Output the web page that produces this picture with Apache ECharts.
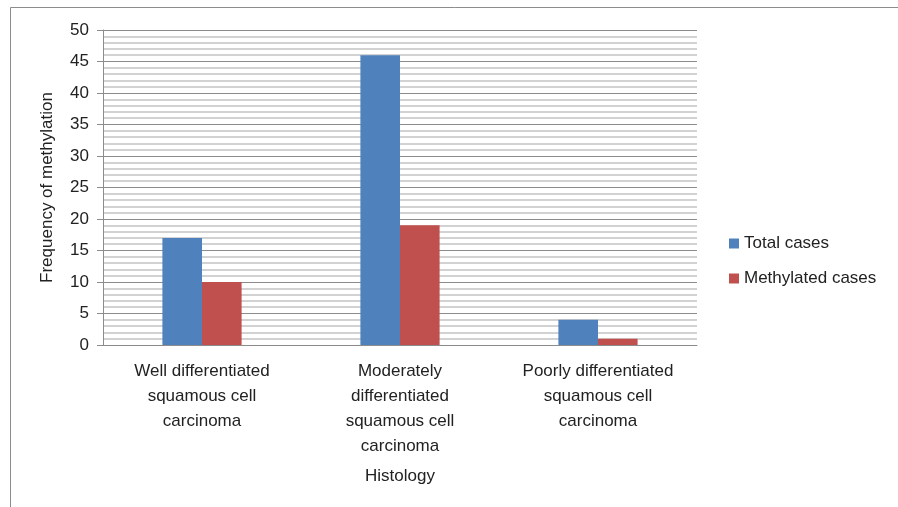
<!DOCTYPE html>
<html><head><meta charset="utf-8">
<script src="https://cdn.jsdelivr.net/npm/echarts@6/dist/echarts.min.js"></script>
<style>html,body{margin:0;padding:0;background:#fff}#c{width:898px;height:507px}</style>
</head><body><div id="c"></div>
<script>
var categories = ['Well differentiated\nsquamous cell\ncarcinoma', 'Moderately\ndifferentiated\nsquamous cell\ncarcinoma', 'Poorly differentiated\nsquamous cell\ncarcinoma'];
var totalCases = [17, 46, 4];
var methylatedCases = [10, 19, 1];
var seriesNames = ['Total cases', 'Methylated cases'];
var font = 'Liberation Sans';
var chart = echarts.init(document.getElementById('c'));
chart.setOption({
  animation: false,
  textStyle: {fontFamily: font},
  graphic: [{type: 'rect', shape: {x: 10.5, y: 7.5, width: 2000, height: 2000}, style: {fill: 'none', stroke: '#8c8c8c', lineWidth: 1}}],
  grid: {left: 103, right: 201, top: 30, bottom: 162},
  legend: {orient: 'vertical', left: 724, top: 230, itemWidth: 10, itemHeight: 10, itemGap: 18,
    icon: 'rect', textStyle: {fontFamily: font, fontSize: 17, color: '#222'}, data: seriesNames},
  xAxis: {type: 'category', data: categories,
    name: 'Histology', nameLocation: 'middle', nameGap: 123,
    nameTextStyle: {fontFamily: font, fontSize: 17, color: '#222'},
    axisLine: {lineStyle: {color: '#8c8c8c'}}, axisTick: {show: false},
    axisLabel: {fontFamily: font, fontSize: 17, color: '#222', lineHeight: 25, margin: 14}},
  yAxis: {type: 'value', min: 0, max: 50, interval: 5,
    name: 'Frequency of methylation', nameLocation: 'middle', nameGap: 47,
    nameTextStyle: {fontFamily: font, fontSize: 17, color: '#222'},
    axisLine: {show: true, lineStyle: {color: '#8c8c8c'}},
    axisTick: {show: true, length: 6, lineStyle: {color: '#8c8c8c'}},
    axisLabel: {fontFamily: font, fontSize: 17, color: '#222', margin: 14},
    splitLine: {lineStyle: {color: '#8c8c8c', width: 1}},
    minorTick: {show: false, splitNumber: 5},
    minorSplitLine: {show: true, lineStyle: {color: '#c4c4c4', width: 1.5}}},
  series: [
    {name: seriesNames[0], type: 'bar', data: totalCases, barWidth: '20%', barGap: '0%', itemStyle: {color: '#4f81bd'}},
    {name: seriesNames[1], type: 'bar', data: methylatedCases, barWidth: '20%', barGap: '0%', itemStyle: {color: '#c0504d'}}
  ]
});
</script></body></html>
